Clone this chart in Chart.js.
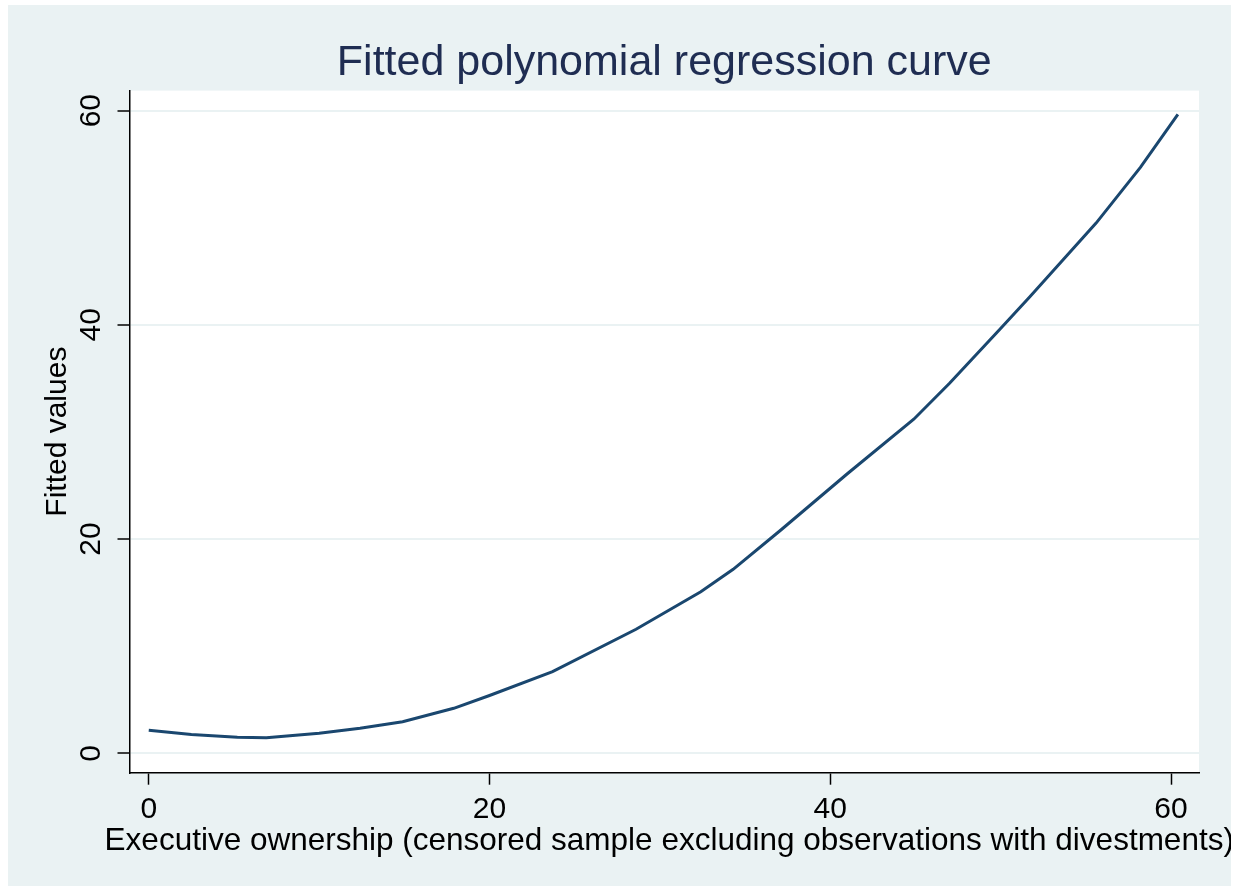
<!DOCTYPE html>
<html>
<head>
<meta charset="utf-8">
<script src="https://cdn.jsdelivr.net/npm/chart.js@4.4.1/dist/chart.umd.min.js"></script>
<style>
  html, body { margin: 0; padding: 0; background: #fff; }
  #wrap { position: absolute; left: 8px; top: 5px; width: 1223px; height: 881px; background: #eaf2f3; }
  canvas { display: block; }
</style>
</head>
<body>
<div id="wrap"><canvas id="fit-graph" width="1223" height="881"></canvas></div>
<script>
// executive ownership (x) and the fitted values
const ownership = [0, 2.5, 5.2, 6.9, 10.0, 12.4, 14.9, 17.9, 20.0, 23.7, 28.6, 32.4, 34.3, 37.1, 41.0, 44.9, 47.0, 49.9, 51.7, 55.6, 58.2, 60.4];
const fitted = [2.15, 1.75, 1.49, 1.46, 1.87, 2.35, 2.95, 4.2, 5.4, 7.62, 11.58, 15.09, 17.18, 20.85, 26.1, 31.19, 34.55, 39.5, 42.6, 49.5, 54.7, 59.66];
const xTicks = [0, 20, 40, 60];
const yTicks = [0, 20, 40, 60];

const titleText = 'Fitted polynomial regression curve';
const xTitle = 'Executive ownership (censored sample excluding observations with divestments)';
const yTitle = 'Fitted values';

const fontFamily = '"Liberation Sans", Arial, sans-serif';
Chart.defaults.font.family = fontFamily;
Chart.defaults.color = '#000';

// white plot region on the bluish-gray graph region
const plotBg = {
  id: 'plotBg',
  beforeDraw(chart) {
    const { ctx, chartArea: a } = chart;
    ctx.save();
    ctx.fillStyle = '#ffffff';
    ctx.fillRect(a.left, a.top, a.right - a.left, a.bottom - a.top);
    ctx.restore();
  }
};

// x axis title is wider than the plot, so the scale title would squeeze it
const xTitlePlugin = {
  id: 'xTitle',
  afterDraw(chart) {
    const { ctx, chartArea: a } = chart;
    const sx = chart.scales.x;
    ctx.save();
    ctx.font = '31.5px ' + fontFamily;
    ctx.fillStyle = '#000';
    ctx.textAlign = 'center';
    ctx.textBaseline = 'middle';
    ctx.fillText(xTitle, (a.left + a.right) / 2 + 5, sx.bottom - 45);
    ctx.restore();
  }
};

const ctx = document.getElementById('fit-graph').getContext('2d');

new Chart(ctx, {
  type: 'scatter',
  data: {
    datasets: [{
      label: 'Fitted values',
      data: ownership.map((x, i) => ({ x: x, y: fitted[i] })),
      showLine: true,
      borderColor: '#1a476f',
      borderWidth: 3,
      pointRadius: 0,
      tension: 0,
      fill: false
    }]
  },
  options: {
    responsive: false,
    animation: false,
    layout: { padding: { left: 0, right: 32, top: 0, bottom: 0 } },
    plugins: {
      legend: { display: false },
      tooltip: { enabled: false },
      title: {
        display: true,
        text: titleText,
        color: '#1f2d52',
        fullSize: false,
        font: { size: 43, weight: 'normal' },
        padding: { top: 32, bottom: 2 }
      }
    },
    scales: {
      x: {
        type: 'linear',
        position: 'bottom',
        min: -1.13,
        max: 61.64,
        afterBuildTicks: s => { s.ticks = xTicks.map(v => ({ value: v })); },
        afterFit: s => { s.height = 113.3; },
        ticks: { font: { size: 30 }, padding: 7, maxRotation: 0, autoSkip: false },
        grid: { drawOnChartArea: false, tickLength: 12, tickColor: '#000', tickWidth: 1.5 },
        border: { display: true, color: '#000', width: 1.5 },
        title: { display: false }
      },
      y: {
        type: 'linear',
        min: -1.81,
        max: 61.87,
        afterBuildTicks: s => { s.ticks = yTicks.map(v => ({ value: v })); },
        afterFit: s => { s.width = 121.5; },
        ticks: { font: { size: 30 }, padding: 9, minRotation: 90, maxRotation: 90, crossAlign: 'center', autoSkip: false },
        grid: { color: '#eaf2f3', lineWidth: 2, tickLength: 12, tickColor: '#000', tickWidth: 1.5 },
        border: { display: true, color: '#000', width: 1.5 },
        title: { display: true, text: yTitle, font: { size: 30 }, padding: { top: 32, bottom: 0 } }
      }
    }
  },
  plugins: [plotBg, xTitlePlugin]
});
</script>
</body>
</html>
